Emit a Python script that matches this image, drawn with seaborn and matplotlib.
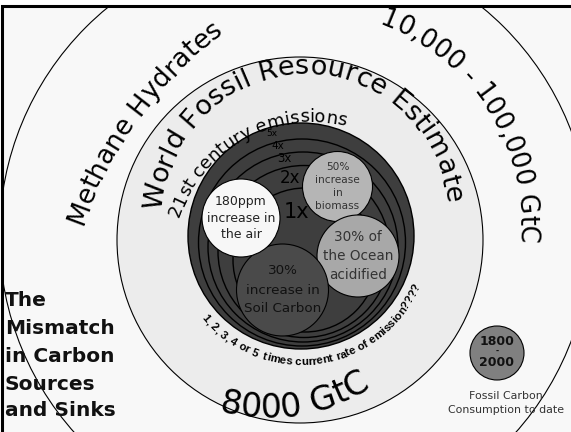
import numpy as np
import matplotlib
matplotlib.use("Agg")
import matplotlib.pyplot as plt
import seaborn as sns
from matplotlib.patches import Circle, Rectangle
from matplotlib import font_manager as fm

# ---- data ----
sink_labels = ["180ppm\nincrease in\nthe air", "50%\nincrease\nin\nbiomass",
               "30% of\nthe Ocean\nacidified", "30%\nincrease in\nSoil Carbon"]
sink_x = [241, 337.5, 358, 282.5]
sink_y = [214, 245.5, 176, 142]
sink_r = [39, 35, 41, 46]

rate_labels = ["5x", "4x", "3x", "2x", "1x"]
ring_x = [301, 302, 303, 304, 305]
ring_y = [196, 189.5, 185, 180.5, 172]
ring_r = [113, 103.5, 95, 86, 72]

outer_label = "Methane Hydrates"
outer_amount = "10,000 - 100,000 GtC"
fossil_label = "World Fossil Resource Estimate"
fossil_amount = "8000 GtC"
century_label = "21st century emissions"
rate_note = "1, 2, 3, 4 or 5  times current rate of emission????"
title_lines = ["The", "Mismatch", "in Carbon", "Sources", "and Sinks"]
used_years = ["1800", "-", "2000"]
used_caption = ["Fossil Carbon", "Consumption to date"]

# ---- style ----
sns.set_theme(style="white")
plt.rcParams["font.family"] = ["DejaVu Sans"]

W, H = 571, 432
fig = plt.figure(figsize=(W / 100, H / 100), dpi=100)
fig.patch.set_facecolor("white")
ax = fig.add_axes([0, 0, 1, 1])
ax.set_xlim(0, W)
ax.set_ylim(0, H)
ax.set_aspect("equal")
ax.axis("off")
renderer = fig.canvas.get_renderer()


def text_w(s, fp):
    w1, _, _ = renderer.get_text_width_height_descent("|" + s + "|", fp, ismath=False)
    w0, _, _ = renderer.get_text_width_height_descent("||", fp, ismath=False)
    return w1 - w0


def arc_text(s, cx, cy, r, mid, size, outside=True, weight="normal",
             family="DejaVu Sans", color="black"):
    fp = fm.FontProperties(family=family, size=size, weight=weight)
    ws = [text_w(ch, fp) for ch in s]
    pos = -sum(ws) / 2
    m = np.radians(mid)
    for ch, w in zip(s, ws):
        c = pos + w / 2
        pos += w
        if ch == " ":
            continue
        if outside:
            a = m - c / r
            rot = np.degrees(a) - 90
        else:
            a = m + c / r
            rot = np.degrees(a) + 90
        ax.text(cx + r * np.cos(a), cy + r * np.sin(a), ch, fontproperties=fp,
                color=color, rotation=rot, rotation_mode="anchor",
                ha="center", va="baseline", zorder=10)


# frame (right and bottom edges lie outside the picture)
frame = Rectangle((2, -20), 620, 446, fc="#f8f8f8", ec="black", lw=2.2, zorder=0)
ax.add_patch(frame)

# methane hydrate ring
outer = Circle((295, 196), 295.5, fc="none", ec="black", lw=0.8, zorder=1)
ax.add_patch(outer)
outer.set_clip_path(frame)

# world fossil resource circle
ax.add_patch(Circle((300, 192), 183, fc="#ececec", ec="black", lw=0.8, zorder=2))

# emission rings
for x, y, r in zip(ring_x, ring_y, ring_r):
    ax.add_patch(Circle((x, y), r, fc="#3e3e3e", ec="black", lw=1.0, zorder=3))

rate_pos = [(272, 299), (278, 286), (284, 273), (290, 254), (297, 220)]
rate_size = [6.5, 7.5, 8.5, 12, 15]
for lab, (x, y), fs in zip(rate_labels, rate_pos, rate_size):
    ax.text(x, y, lab, fontsize=fs, color="black", ha="center", va="center", zorder=9)

# sinks
sink_fc = ["#f7f7f7", "#b5b5b5", "#a8a8a8", "#4a4a4a"]
sink_tc = ["#222222", "#333333", "#333333", "#111111"]
sink_fs = [9, 7.6, 9.8, 9.7]
sink_step = [16.5, 13, 19, 19]
sink_z = [7, 4, 5, 6]
for i in range(len(sink_labels)):
    ax.add_patch(Circle((sink_x[i], sink_y[i]), sink_r[i], fc=sink_fc[i],
                        ec="black", lw=0.8, zorder=sink_z[i]))
    lines = sink_labels[i].split("\n")
    n = len(lines)
    for j, ln in enumerate(lines):
        ax.text(sink_x[i], sink_y[i] - (j - (n - 1) / 2) * sink_step[i], ln,
                fontsize=sink_fs[i], color=sink_tc[i], ha="center", va="center",
                zorder=sink_z[i] + 0.5)

# consumption to date
ax.add_patch(Circle((497, 79), 27, fc="#808080", ec="black", lw=0.8, zorder=4))
for ln, y, fs in zip(used_years, [90.5, 80.5, 69.5], [9, 5.5, 9]):
    ax.text(497, y, ln, fontsize=fs, fontweight="bold", color="#111111",
            ha="center", va="center", zorder=5)
for ln, y in zip(used_caption, [36, 22]):
    ax.text(506, y, ln, fontsize=7.9, color="#333333", ha="center", va="center", zorder=5)

# curved labels
arc_text(outer_label, 468, 73, 408, 143.9, 19)
arc_text(outer_amount, 305, 207, 214, 32.5, 18.5)
arc_text(fossil_label, 304, 216, 142, 91.35, 19.5)
arc_text(century_label, 312, 170, 140, 118.9, 13)
names = {f.name for f in fm.fontManager.ttflist}
narrow = "Liberation Sans Narrow" in names
arc_text(rate_note, 301, 196, 129, -81.6, 9.5 if narrow else 8.2, outside=False,
         weight="bold", family="Liberation Sans Narrow" if narrow else "Liberation Sans")
arc_text(fossil_amount, 266, 208, 194, -80.8, 24, outside=False)

# title
for ln, y in zip(title_lines, [132, 104, 76, 48, 21]):
    ax.text(5, y, ln, fontsize=14.5, fontweight="bold", color="#111111",
            ha="left", va="center", zorder=10)

fig.savefig("out.png", dpi=100, facecolor=fig.get_facecolor())
